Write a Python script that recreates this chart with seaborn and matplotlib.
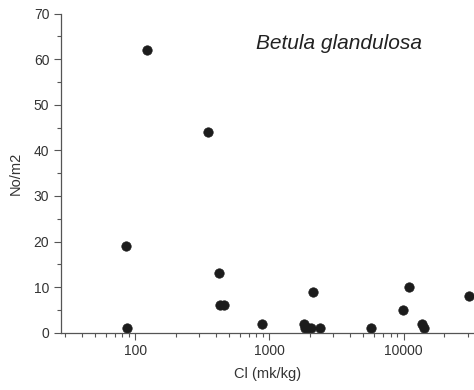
import matplotlib
matplotlib.use("Agg")
import matplotlib.pyplot as plt
import matplotlib.ticker as mticker
import seaborn as sns
import pandas as pd

# Chloride concentration in soil (mk/kg) and plant density (No/m2)
cl_values = [85, 87, 123, 347, 424, 425, 455, 880, 1820, 1840, 1950, 2050,
             2110, 2370, 5690, 9890, 11000, 13700, 14300, 30600]
density = [19, 1, 62, 44, 13, 6, 6, 2, 2, 1, 1, 1,
           9, 1, 1, 5, 10, 2, 1, 8]
species = "Betula glandulosa"

df = pd.DataFrame({"Cl": cl_values, "No": density})

sns.set_style("ticks")
plt.rcParams["font.family"] = ["Liberation Sans", "DejaVu Sans"]

fig = plt.figure(figsize=(4.74, 3.90), dpi=100)
ax = fig.add_axes([0.129, 0.147, 0.869, 0.818])

sns.scatterplot(data=df, x="Cl", y="No", ax=ax, s=46, color="#1c1c1c",
                edgecolor="#1c1c1c", linewidth=0.5, legend=False)

ax.set_xscale("log")
ax.set_xlim(28, 33000)
ax.set_ylim(0, 70)
ax.xaxis.set_major_locator(mticker.LogLocator(base=10, numticks=10))
ax.xaxis.set_minor_locator(mticker.LogLocator(base=10, subs=range(2, 10), numticks=20))
ax.xaxis.set_major_formatter(mticker.FuncFormatter(lambda v, p: f"{int(round(v))}"))
ax.xaxis.set_minor_formatter(mticker.NullFormatter())
ax.yaxis.set_major_locator(mticker.MultipleLocator(10))
ax.yaxis.set_minor_locator(mticker.MultipleLocator(5))

sns.despine(ax=ax)
for side in ("left", "bottom"):
    ax.spines[side].set_color("#555555")
    ax.spines[side].set_linewidth(0.9)
ax.tick_params(which="major", length=5, width=0.8, color="#555555",
               labelsize=10, labelcolor="#333333", direction="out")
ax.tick_params(which="minor", length=3, width=0.8, color="#555555", direction="out")

ax.set_xlabel("Cl (mk/kg)", fontsize=10.5, color="#333333", labelpad=6)
ax.set_ylabel("No/m2", fontsize=10.5, color="#333333", labelpad=8)

ax.text(0.675, 0.905, species, transform=ax.transAxes, fontsize=15,
        style="italic", color="#222222", ha="center", va="center")

fig.savefig("out.png", dpi=100)
